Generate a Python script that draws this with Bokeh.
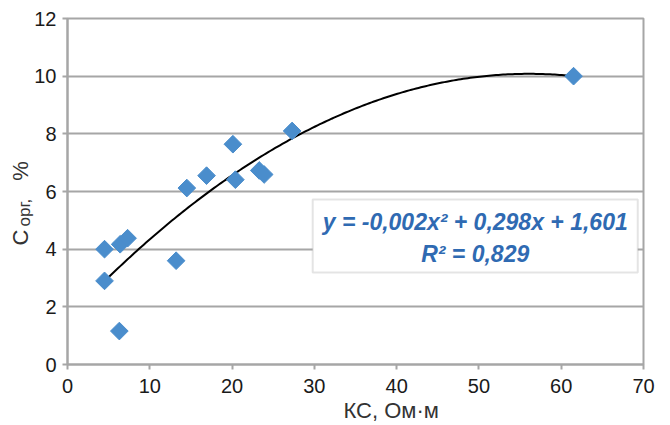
import numpy as np
from bokeh.plotting import figure
from bokeh.models import Label, BoxAnnotation, FixedTicker, ColumnDataSource, Title
from bokeh.embed import file_html
from bokeh.resources import INLINE

# Data
ks = [4.5, 4.5, 6.3, 6.4, 7.3, 13.2, 14.5, 16.9, 20.1, 20.4, 23.3, 23.9, 27.3, 61.5]
corg = [4.0, 2.9, 1.16, 4.17, 4.38, 3.6, 6.12, 6.55, 7.64, 6.41, 6.73, 6.59, 8.1, 10.0]
# quadratic trend line as drawn (a, b, c)
trend_coef = [-0.0027, 0.303, 1.58]
x_ticks = [0, 10, 20, 30, 40, 50, 60, 70]
y_ticks = [0, 2, 4, 6, 8, 10, 12]
eq_line1 = "y = -0,002x\u00b2 + 0,298x + 1,601"
eq_line2 = "R\u00b2 = 0,829"
x_title = "КС, Ом·м"

FONT = "Liberation Sans"
GRID = "#A6A6A6"
W, H = 665, 422

p = figure(width=W, height=H, x_range=(0, 70), y_range=(0, 12),
           output_backend="svg", toolbar_location=None,
           min_border_left=67, min_border_right=W - 643, min_border_top=18,
           min_border_bottom=H - 364)
p.background_fill_color = "white"
p.border_fill_color = "white"
p.outline_line_color = GRID
p.outline_line_width = 2

p.xgrid.visible = False
p.ygrid.grid_line_color = GRID
p.ygrid.grid_line_width = 2
p.ygrid.ticker = FixedTicker(ticks=y_ticks)

for ax in (p.xaxis[0], p.yaxis[0]):
    ax.axis_line_color = GRID
    ax.axis_line_width = 2
    ax.major_tick_line_color = GRID
    ax.major_tick_line_width = 2
    ax.major_tick_out = 5
    ax.major_tick_in = 0
    ax.minor_tick_line_color = None
    ax.major_label_text_font = FONT
    ax.major_label_text_font_size = "20px"
    ax.major_label_text_color = "#1a1a1a"
p.xaxis[0].ticker = FixedTicker(ticks=x_ticks)
p.yaxis[0].ticker = FixedTicker(ticks=y_ticks)
p.xaxis[0].major_label_standoff = 9
p.yaxis[0].major_label_standoff = 6

# Quadratic trend line
xs = np.linspace(min(ks) + 0.2, max(ks), 200)
ys = np.polyval(trend_coef, xs)
p.line(xs, ys, line_color="black", line_width=2)

src = ColumnDataSource(dict(x=ks, y=corg))
p.scatter("x", "y", source=src, marker="square", size=12.5, angle=np.pi / 4,
          fill_color="#4A8DCC", line_color="#4A8DCC")

# Equation box
box = BoxAnnotation(left=29.8, right=69.3, top=5.72, bottom=3.19,
                    fill_color="white", fill_alpha=1.0,
                    line_color=GRID, line_width=2)
p.add_layout(box)
p.add_layout(Label(x=49.55, y=4.95, text=eq_line1, text_align="center",
                   text_baseline="alphabetic",
                   text_font=FONT, text_font_size="23px", text_font_style="bold italic",
                   text_color="#2F6AB2"))
p.add_layout(Label(x=49.55, y=3.82, text=eq_line2, text_align="center",
                   text_baseline="alphabetic",
                   text_font=FONT, text_font_size="23px", text_font_style="bold italic",
                   text_color="#2F6AB2"))

# Axis titles
p.add_layout(Title(text=x_title, align="left", offset=276, standoff=0,
                   text_font=FONT, text_font_size="22px", text_font_style="normal",
                   text_color="#333333"), "below")
p.add_layout(Title(text="орг,", align="left", offset=138, standoff=-5,
                   text_font=FONT, text_font_size="17px", text_font_style="normal",
                   text_color="#333333"), "left")
p.add_layout(Title(text="C" + "\u00a0" * 8 + "%", align="left", offset=119, standoff=-35,
                   text_font=FONT, text_font_size="22px", text_font_style="normal",
                   text_color="#333333"), "left")

open("out.html", "w").write(file_html(p, INLINE))
